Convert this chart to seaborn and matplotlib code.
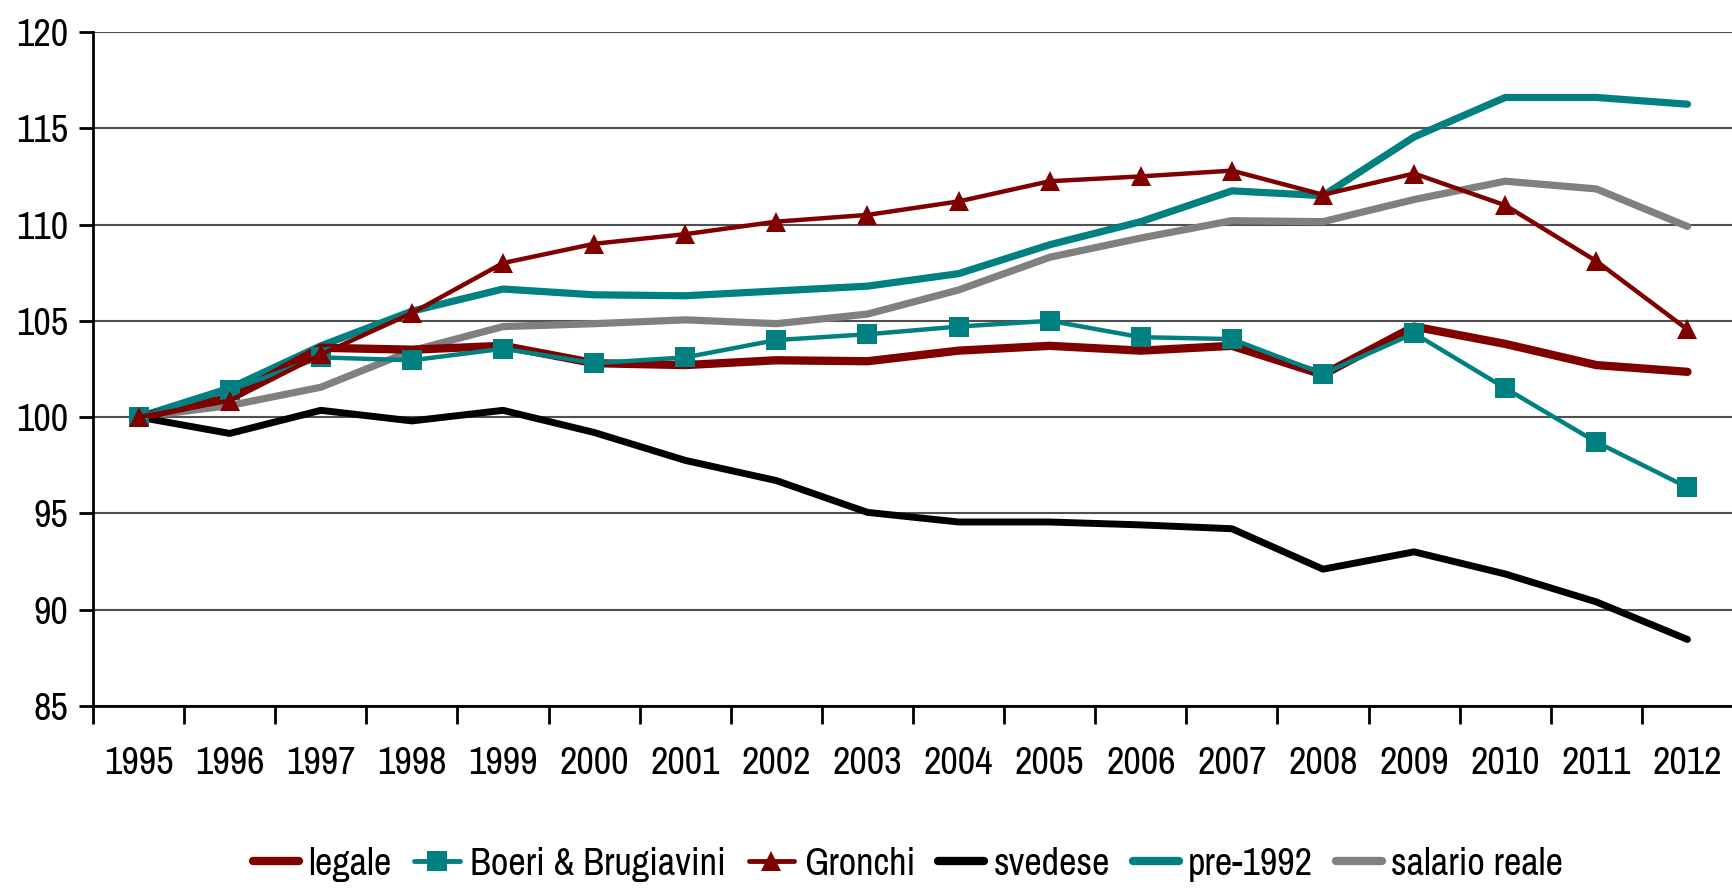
import matplotlib
matplotlib.use("Agg")
import matplotlib.pyplot as plt
import seaborn as sns
import pandas as pd
import numpy as np
from matplotlib.ticker import FixedLocator
from matplotlib.lines import Line2D

years = [1995, 1996, 1997, 1998, 1999, 2000, 2001, 2002, 2003, 2004,
         2005, 2006, 2007, 2008, 2009, 2010, 2011, 2012]

legale = [100, 101.0, 103.6, 103.5, 103.7, 102.8, 102.7, 102.95, 102.9, 103.45,
          103.7, 103.45, 103.7, 102.2, 104.7, 103.8, 102.7, 102.35]
boeri = [100, 101.4, 103.1, 102.95, 103.55, 102.8, 103.1, 104.0, 104.3, 104.7,
         105.0, 104.15, 104.05, 102.25, 104.35, 101.5, 98.7, 96.35]
gronchi = [100, 100.85, 103.25, 105.4, 108.0, 109.0, 109.5, 110.15, 110.5, 111.2,
           112.25, 112.5, 112.8, 111.55, 112.65, 111.0, 108.1, 104.55]
svedese = [100, 99.15, 100.35, 99.8, 100.35, 99.2, 97.75, 96.7, 95.05, 94.55,
           94.55, 94.4, 94.2, 92.1, 93.0, 91.85, 90.4, 88.45]
pre1992 = [100, 101.5, 103.7, 105.5, 106.65, 106.35, 106.3, 106.55, 106.8, 107.45,
           108.95, 110.15, 111.75, 111.5, 114.55, 116.6, 116.6, 116.25]
salario = [100, 100.6, 101.55, 103.45, 104.7, 104.85, 105.05, 104.85, 105.35, 106.6,
           108.3, 109.3, 110.2, 110.15, 111.3, 112.25, 111.85, 109.9]

series_names = ["legale", "Boeri & Brugiavini", "Gronchi", "svedese", "pre-1992", "salario reale"]
series_vals = [legale, boeri, gronchi, svedese, pre1992, salario]

sns.set_style("white")
plt.rcParams['font.family'] = ['Archivo Narrow', 'Liberation Sans', 'DejaVu Sans']
plt.rcParams['text.color'] = 'black'
plt.rcParams['xtick.color'] = 'black'
plt.rcParams['ytick.color'] = 'black'

fig = plt.figure(figsize=(17.33, 8.89), dpi=100)
ax = fig.add_axes([0.0537, 0.206, 0.9463, 0.758])

styles = {
    "legale":             dict(color="#800000", lw=6.0, marker=None, ms=0, z=4),
    "Boeri & Brugiavini": dict(color="#008080", lw=3.2, marker="s", ms=14, z=5),
    "Gronchi":            dict(color="#800000", lw=3.2, marker="^", ms=15, z=6),
    "svedese":            dict(color="#000000", lw=5.0, marker=None, ms=0, z=3),
    "pre-1992":           dict(color="#008080", lw=5.2, marker=None, ms=0, z=2),
    "salario reale":      dict(color="#808080", lw=5.2, marker=None, ms=0, z=2),
}

x = np.arange(len(years))
for name, vals in zip(series_names, series_vals):
    st = styles[name]
    df = pd.DataFrame({"x": x, "y": vals})
    sns.lineplot(data=df, x="x", y="y", ax=ax, color=st["color"], linewidth=st["lw"],
                 marker=st["marker"], markersize=st["ms"], markeredgewidth=0,
                 zorder=st["z"], label=name, legend=False)

ax.set_xlim(-0.5, len(years) - 0.5)
ax.set_ylim(85, 120)
ax.set_yticks(np.arange(85, 121, 5))
ax.yaxis.grid(True, color="#505050", linewidth=1.5)
ax.set_axisbelow(True)
ax.set_xlabel("")
ax.set_ylabel("")

ax.set_xticks(x)
ax.set_xticklabels([str(y) for y in years])
ax.xaxis.set_minor_locator(FixedLocator(np.arange(-0.5, len(years), 1.0)))
ax.tick_params(axis="x", which="major", length=0, pad=29, labelsize=27.5)
ax.tick_params(axis="x", which="minor", length=13, width=2, color="black", direction="out", bottom=True)
ax.tick_params(axis="y", which="major", length=10, width=2, color="black", direction="out",
               left=True, labelsize=27.5, pad=8)

for side in ["top", "right"]:
    ax.spines[side].set_visible(False)
for side in ["left", "bottom"]:
    ax.spines[side].set_visible(True)
    ax.spines[side].set_color("black")
    ax.spines[side].set_linewidth(2)

leg_handles = []
for name in series_names:
    st = styles[name]
    leg_handles.append(Line2D([0], [0], color=st["color"], lw=6 if not st["marker"] else 3.5,
                              marker=st["marker"], markersize=st["ms"], markeredgewidth=0))
fig.legend(leg_handles, series_names, loc="center", bbox_to_anchor=(0.524, 0.028), ncol=6,
           frameon=False, fontsize=27.5, handlelength=1.2, handletextpad=0.25, columnspacing=0.6)

fig.savefig("out.png", dpi=100)
